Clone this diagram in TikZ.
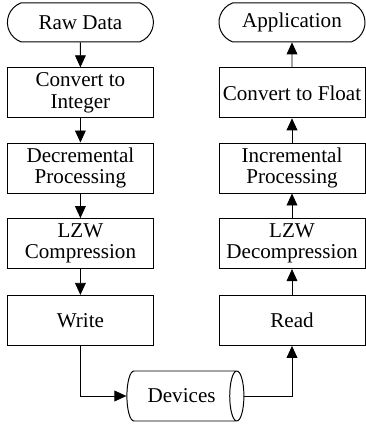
\documentclass[tikz,border=0pt]{standalone}
\usepackage{fontspec}
\setmainfont{Liberation Serif}
\usetikzlibrary{arrows.meta,shapes.misc,shapes.geometric}

\begin{document}
\begin{tikzpicture}[x=1cm,y=1cm,font=\fontsize{15pt}{15pt}\selectfont,>={Triangle[length=0.3cm,width=0.27cm]},
  box/.style={draw,line width=0.7pt,minimum width=3.65cm,minimum height=1.25cm,align=center,inner sep=0pt},
  term/.style={draw,line width=0.7pt,rounded rectangle,rounded rectangle arc length=140,minimum width=3.65cm,minimum height=0.975cm,inner sep=0pt},
  store/.style={draw,line width=0.7pt,cylinder,aspect=1,minimum width=1.25cm,minimum height=2.925cm,inner sep=0pt},
  flow/.style={->,line width=0.6pt}]
\useasboundingbox (0,0) rectangle (9.15,10.65);
% left column, going down
\node[term] (raw) at (2.01,10.09) {Raw Data};
\node[box] (toint) at (2.01,8.33) {Convert to\\Integer};
\node[box] (decr) at (2.01,6.45) {Decremental\\Processing};
\node[box] (lzwc) at (2.01,4.56) {LZW\\Compression};
\node[box] (write) at (2.01,2.64) {Write};
% storage
\node[store] (dev) at (4.54,0.75) {Devices};
% right column, going up
\node[box] (read) at (7.3,2.64) {Read};
\node[box] (lzwd) at (7.3,4.56) {LZW\\Decompression};
\node[box] (incr) at (7.3,6.45) {Incremental\\Processing};
\node[box] (tofloat) at (7.3,8.33) {Convert to Float};
\node[term] (app) at (7.3,10.09) {Application};
\draw[flow] (raw) -- (toint);
\draw[flow] (toint) -- (decr);
\draw[flow] (decr) -- (lzwc);
\draw[flow] (lzwc) -- (write);
\draw[flow] (write) |- (dev);
\draw[flow] (dev) -| (read);
\draw[flow] (read) -- (lzwd);
\draw[flow] (lzwd) -- (incr);
\draw[flow] (incr) -- (tofloat);
\draw[flow] (tofloat) -- (app);
\end{tikzpicture}
\end{document}
